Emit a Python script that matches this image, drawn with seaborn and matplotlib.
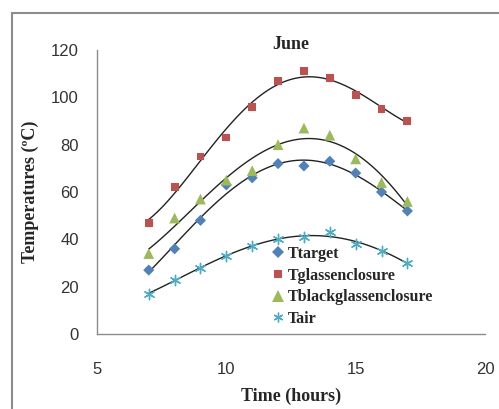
"""
June temperatures: scatter points with polynomial trend lines.
"""

import matplotlib

matplotlib.use("Agg")
import matplotlib.pyplot as plt
import numpy as np
import pandas as pd
import seaborn as sns
from matplotlib.lines import Line2D
from matplotlib.patches import Rectangle

HOURS = [7, 8, 9, 10, 11, 12, 13, 14, 15, 16, 17]
T_TARGET = [27, 36, 48, 63, 66, 72, 71, 73, 68, 60, 52]
T_GLASS = [47, 62, 75, 83, 96, 107, 111, 108, 101, 95, 90]
T_BLACK = [34, 49, 57, 65, 69, 80, 87, 84, 74, 64, 56]
T_AIR = [17, 23, 28, 33, 37, 40, 41, 43, 38, 35, 30]

SERIES = ["Ttarget", "Tglassenclosure", "Tblackglassenclosure", "Tair"]
VALUES = [T_TARGET, T_GLASS, T_BLACK, T_AIR]
COLORS = ["#4F81BD", "#C0504D", "#9BBB59", "#4BACC6"]
MARKERS = ["D", "s", "^", (6, 2, 0)]
SIZES = [32, 32, 60, 55]

SERIF = "Liberation Serif"
SANS = "Liberation Sans"


def main() -> None:
    sns.set_theme(style="white")
    fig = plt.figure(figsize=(4.99, 4.09), dpi=100)
    fig.patches.append(
        Rectangle((12 / 499, -0.1), 1.2, 1 - 13 / 409 + 0.1, transform=fig.transFigure,
                  fill=False, edgecolor="#8c8c8c", linewidth=1.5)
    )
    ax = fig.add_axes([97 / 499, 75 / 409, 388 / 499, 284 / 409])

    handles = []
    for name, vals, color, marker, size in zip(SERIES, VALUES, COLORS, MARKERS, SIZES):
        df = pd.DataFrame({"hour": HOURS, "temp": vals})
        sns.regplot(data=df, x="hour", y="temp", order=4, ci=None, scatter=False,
                    truncate=True, ax=ax, line_kws={"color": "#222222", "linewidth": 1.0})
        lw = 1.0 if not isinstance(marker, str) else 0
        sns.scatterplot(data=df, x="hour", y="temp", ax=ax, color=color, marker=marker,
                        s=size, edgecolor=color if lw else "none", linewidth=lw, zorder=3)
        handles.append(Line2D([], [], linestyle="none", marker=marker, color=color,
                              markersize=8 if marker == "^" else 7 if lw else 6,
                              markeredgewidth=1.0 if lw else 0, label=name))

    ax.set_xlim(5, 20)
    ax.set_ylim(0, 120)
    ax.set_xticks(np.arange(5, 21, 5))
    ax.set_yticks(np.arange(0, 121, 20))
    ax.tick_params(length=0, labelsize=12, colors="#333333")
    ax.tick_params(axis="x", pad=20)
    ax.tick_params(axis="y", pad=13)
    for lbl in ax.get_xticklabels() + ax.get_yticklabels():
        lbl.set_fontfamily(SANS)
    for side in ["top", "right"]:
        ax.spines[side].set_visible(False)
    for side in ["left", "bottom"]:
        ax.spines[side].set_color("#8c8c8c")
        ax.spines[side].set_linewidth(1.0)

    ax.set_xlabel("Time (hours)", fontfamily=SERIF, fontsize=13, fontweight="bold",
                  labelpad=8)
    ax.set_ylabel("Temperatures (ºC)", fontfamily=SERIF, fontsize=13, fontweight="bold",
                  labelpad=9)
    ax.set_title("June", fontfamily=SERIF, fontsize=13, fontweight="bold", pad=1)

    ax.legend(handles=handles, loc="lower left", bbox_to_anchor=(0.41, -0.025),
              frameon=False, handletextpad=0.1, labelspacing=0.35, handlelength=1.0,
              prop={"family": SERIF, "weight": "bold", "size": 11.5})

    fig.savefig("out.png", dpi=100)
    plt.close(fig)


if __name__ == "__main__":
    main()
